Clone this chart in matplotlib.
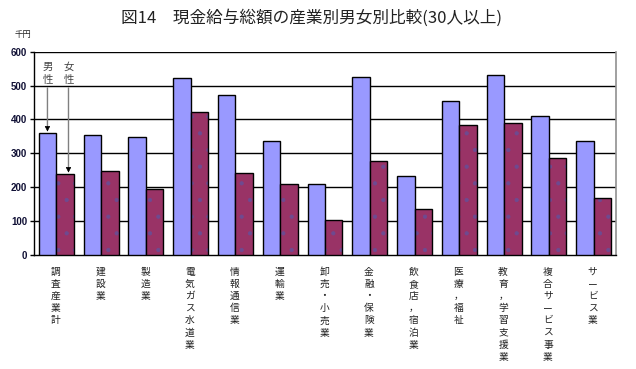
import numpy as np
import matplotlib
matplotlib.use('Agg')
import matplotlib.pyplot as plt
from matplotlib.transforms import blended_transform_factory

plt.rcParams['font.family'] = ['Noto Sans CJK JP', 'DejaVu Sans']
plt.rcParams['hatch.linewidth'] = 0.6

# data (千円)
industries = ['調査産業計', '建設業', '製造業', '電気ガス水道業', '情報通信業', '運輸業',
              '卸売・小売業', '金融・保険業', '飲食店，宿泊業', '医療，福祉',
              '教育，学習支援業', '複合サービス事業', 'サービス業']
male = [360, 354, 348, 522, 472, 336, 210, 526, 234, 454, 531, 411, 337]
female = [239, 248, 195, 422, 242, 210, 104, 276, 137, 384, 390, 286, 167]
yticks = [0, 100, 200, 300, 400, 500, 600]

fig = plt.figure(figsize=(6.36, 3.69), dpi=100)
ax = fig.add_axes([0.0535, 0.309, 0.915, 0.551])

x = np.arange(len(industries))
w = 0.39
ax.bar(x - w / 2, male, w, color='#9999FF', edgecolor='black', linewidth=1, zorder=3)
# dotted female bars: hatch layer then black outline
ax.bar(x + w / 2, female, w, color='#993366', edgecolor='#6e4a90', hatch='.',
       linewidth=0, zorder=3)
ax.bar(x + w / 2, female, w, fill=False, edgecolor='black', linewidth=1, zorder=4)

ax.set_xlim(-0.5, len(industries) - 0.5)
ax.set_ylim(0, 600)
ax.set_yticks(yticks)
ax.set_yticklabels([str(t) for t in yticks], family='Liberation Sans',
                   fontweight='bold', fontsize=7, color='#101035')
ax.tick_params(axis='y', length=3, width=1, pad=2)
ax.set_xticks([])
for t in yticks[1:]:
    ax.axhline(t, color='black', linewidth=1, zorder=1)
ax.spines['top'].set_visible(False)
ax.spines['right'].set_color('#909090')
ax.spines['right'].set_linewidth(1.2)
ax.spines['left'].set_linewidth(1)
ax.spines['bottom'].set_linewidth(1)

# vertical category labels
trans = blended_transform_factory(ax.transData, ax.transAxes)
for i, name in enumerate(industries):
    ax.text(i - 0.02, -0.058, '\n'.join(name), transform=trans, ha='center', va='top',
            fontsize=7, linespacing=1.27, color='#222222')

# legend-like annotation
ax.text(0.04, 536, ' ' * 10, fontsize=8, ha='center', va='center',
        bbox=dict(facecolor='white', edgecolor='none', pad=4), zorder=5)
ax.text(-0.2, 536, '男\n性', fontsize=7.5, ha='center', va='center', color='#444444',
        linespacing=1.3, zorder=6)
ax.text(0.27, 536, '女\n性', fontsize=7.5, ha='center', va='center', color='#444444',
        linespacing=1.3, zorder=6)
for xa, ya in [(-0.2, 364), (0.27, 243)]:
    ax.annotate('', xy=(xa, ya + 14), xytext=(xa, 493),
                arrowprops=dict(arrowstyle='-', color='#808080', lw=1,
                                shrinkA=0, shrinkB=0), zorder=6)
    ax.annotate('', xy=(xa, ya), xytext=(xa, ya + 15),
                arrowprops=dict(arrowstyle='-|>', color='black', lw=0.5,
                                mutation_scale=8, shrinkA=0, shrinkB=0), zorder=6)

fig.text(0.036, 0.907, '千円', fontsize=6, ha='center', va='center', color='#222222')
fig.text(0.49, 0.951, '図14　現金給与総額の産業別男女別比較(30人以上)', fontsize=12,
         ha='center', va='center', color='#222222')

fig.savefig('out.png', dpi=100, facecolor='white')
